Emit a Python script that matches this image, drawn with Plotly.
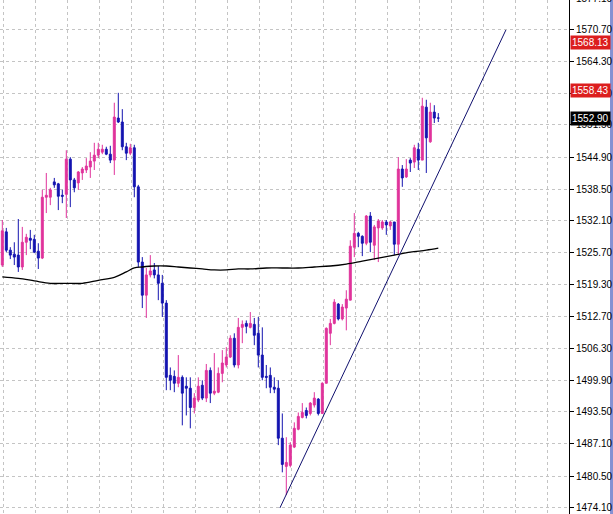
import plotly.graph_objects as go

# ---- candle data (bar index, open, high, low, close) ----
opens = [1523.2, 1529.9, 1526.2, 1525.4, 1525.2, 1522.8, 1527.8, 1528.6, 1528.4, 1526.0,
         1524.6, 1536.9, 1536.9, 1540.0, 1539.6, 1537.3, 1537.5, 1544.6, 1540.4, 1539.8,
         1541.8, 1542.4, 1543.0, 1544.2, 1545.4, 1546.0, 1546.6, 1545.6, 1544.4, 1552.9,
         1552.1, 1547.1, 1545.8, 1546.9, 1539.0, 1523.8, 1517.1, 1521.2, 1522.2, 1521.2,
         1519.5, 1515.5, 1500.9, 1500.7, 1499.3, 1500.5, 1498.7, 1498.3, 1494.4, 1495.9,
         1498.9, 1496.3, 1501.9, 1497.3, 1497.5, 1501.3, 1503.0, 1504.6, 1508.4, 1503.0,
         1510.6, 1511.4, 1510.6, 1511.2, 1509.4, 1505.0, 1500.7, 1500.9, 1498.5, 1498.3,
         1488.2, 1482.5, 1482.7, 1486.4, 1490.0, 1492.4, 1493.8, 1493.2, 1494.9, 1496.1,
         1493.2, 1499.3, 1509.4, 1511.4, 1515.3, 1512.3, 1514.5, 1516.1, 1526.8, 1529.6,
         1529.0, 1527.6, 1533.1, 1527.2, 1530.7, 1530.7, 1531.9, 1531.1, 1531.9, 1527.4,
         1542.6, 1541.0, 1544.4, 1544.0, 1546.6, 1544.4, 1555.1, 1548.1, 1554.1, 1552.9]
highs = [1532.3, 1530.7, 1526.8, 1527.8, 1532.5, 1530.9, 1529.5, 1530.3, 1529.3, 1527.6,
         1538.4, 1541.8, 1538.8, 1540.8, 1539.8, 1538.4, 1546.4, 1545.0, 1540.8, 1542.2,
         1543.0, 1544.8, 1546.0, 1547.9, 1547.9, 1547.5, 1547.1, 1547.3, 1556.0, 1558.0,
         1554.7, 1547.9, 1547.7, 1547.5, 1539.4, 1524.8, 1522.6, 1525.2, 1523.6, 1523.0,
         1521.2, 1516.1, 1502.5, 1501.9, 1505.0, 1500.9, 1500.5, 1500.5, 1497.3, 1500.5,
         1499.9, 1503.2, 1502.5, 1505.4, 1502.5, 1506.0, 1506.6, 1509.0, 1509.4, 1512.5,
         1512.0, 1512.0, 1513.7, 1512.5, 1512.7, 1510.6, 1503.0, 1502.5, 1500.5, 1499.9,
         1493.2, 1488.4, 1487.4, 1491.4, 1493.4, 1495.3, 1494.4, 1495.5, 1497.5, 1496.3,
         1499.5, 1510.6, 1512.3, 1516.3, 1515.5, 1515.3, 1518.1, 1528.2, 1533.7, 1529.9,
         1529.2, 1533.3, 1533.9, 1531.3, 1532.5, 1532.3, 1532.3, 1532.1, 1531.9, 1545.0,
         1543.4, 1544.6, 1544.8, 1547.5, 1547.9, 1557.0, 1556.6, 1556.0, 1555.5, 1553.9]
lows = [1522.8, 1525.8, 1524.4, 1523.2, 1521.8, 1522.2, 1525.2, 1526.4, 1525.6, 1522.4,
        1524.4, 1533.7, 1535.3, 1538.8, 1534.3, 1535.7, 1532.7, 1534.9, 1537.9, 1538.4,
        1540.4, 1541.8, 1540.8, 1542.4, 1544.8, 1545.6, 1545.4, 1543.8, 1541.4, 1551.9,
        1546.4, 1544.4, 1545.4, 1536.9, 1522.8, 1514.5, 1512.5, 1520.7, 1520.5, 1516.1,
        1512.7, 1497.9, 1497.9, 1497.5, 1498.5, 1490.8, 1492.8, 1490.2, 1493.2, 1495.5,
        1495.9, 1495.5, 1495.3, 1496.9, 1497.3, 1499.5, 1502.5, 1504.4, 1502.5, 1502.3,
        1507.4, 1509.4, 1510.4, 1507.0, 1502.5, 1499.9, 1498.3, 1497.3, 1497.3, 1486.8,
        1481.3, 1476.7, 1482.3, 1486.2, 1489.8, 1492.2, 1492.2, 1492.8, 1494.4, 1492.8,
        1493.2, 1499.3, 1507.0, 1511.2, 1512.0, 1512.0, 1510.0, 1516.1, 1524.8, 1526.8,
        1525.0, 1527.2, 1525.8, 1524.2, 1523.8, 1530.3, 1529.3, 1530.3, 1525.2, 1525.2,
        1539.0, 1540.8, 1542.0, 1542.8, 1542.4, 1544.4, 1541.8, 1547.9, 1551.9, 1552.1]
closes = [1530.1, 1526.2, 1525.2, 1524.8, 1522.8, 1527.8, 1528.8, 1528.2, 1525.8, 1524.6,
          1536.9, 1537.3, 1538.4, 1539.4, 1537.1, 1537.1, 1544.6, 1540.4, 1538.8, 1542.0,
          1542.6, 1543.2, 1544.2, 1545.4, 1546.6, 1546.6, 1545.6, 1544.4, 1553.1, 1552.1,
          1547.1, 1545.8, 1546.9, 1539.0, 1523.8, 1517.1, 1521.2, 1522.0, 1521.2, 1519.5,
          1515.5, 1500.5, 1499.9, 1499.3, 1500.5, 1497.3, 1498.3, 1494.4, 1496.3, 1498.7,
          1496.3, 1501.9, 1497.3, 1497.7, 1501.3, 1503.4, 1504.6, 1508.4, 1503.0, 1510.6,
          1511.2, 1510.8, 1511.4, 1509.0, 1505.0, 1500.5, 1500.5, 1498.5, 1498.1, 1488.2,
          1482.9, 1483.3, 1486.8, 1490.2, 1492.6, 1493.4, 1492.8, 1495.3, 1496.3, 1493.2,
          1499.3, 1510.4, 1511.4, 1515.7, 1512.3, 1514.7, 1516.3, 1527.0, 1529.6, 1529.0,
          1527.6, 1533.1, 1527.8, 1530.9, 1532.1, 1531.9, 1531.3, 1531.9, 1527.4, 1542.6,
          1540.8, 1542.6, 1543.8, 1546.9, 1544.4, 1555.3, 1548.9, 1554.1, 1552.9, 1552.9]
bars = list(range(len(opens)))

# ---- moving average (bar index, value) ----
ma_bars = [0, 4, 8, 12, 16, 20, 24, 28, 31, 33, 35, 38, 41, 44, 47, 50, 53, 56, 59, 62,
           66, 70, 74, 78, 82, 86, 90, 94, 98, 102, 106, 109]
ma_vals = [1520.8, 1520.5, 1520.0, 1519.5, 1519.5, 1519.5, 1520.1, 1520.7, 1521.8, 1522.6,
           1522.8, 1523.0, 1523.0, 1522.8, 1522.6, 1522.4, 1522.2, 1522.2, 1522.4, 1522.4,
           1522.6, 1522.6, 1522.6, 1522.8, 1523.0, 1523.4, 1524.0, 1524.6, 1525.2, 1525.8,
           1526.2, 1526.6]

# ---- trend line (bar index, price) ----
trend_bars = [69.4, 125.9]
trend_vals = [1474.1, 1570.7]

# ---- horizontal levels ----
red_levels = [1568.13, 1558.43]
bid_level = 1552.90

# ---- y tick labels ----
tick_vals = [1474.10, 1480.50, 1487.10, 1493.50, 1499.90, 1506.30, 1512.70, 1519.30,
             1525.70, 1532.10, 1538.50, 1544.90, 1551.50, 1557.90, 1564.30, 1570.70]
top_label = 1577.10

Y_MIN, Y_MAX = 1472.88, 1576.76

PINK = "#e0339b"
BLUE = "#1414b0"
RED = "#dc1e1e"
FONT = "Liberation Sans"

fig = go.Figure()

fig.add_trace(go.Candlestick(
    x=bars, open=opens, high=highs, low=lows, close=closes,
    increasing=dict(line=dict(color=PINK, width=1), fillcolor=PINK),
    decreasing=dict(line=dict(color=BLUE, width=1), fillcolor=BLUE),
    whiskerwidth=0, showlegend=False, hoverinfo="skip"))

fig.add_trace(go.Scatter(x=ma_bars, y=ma_vals, mode="lines", line_shape="spline",
                         line=dict(color="black", width=1.3), showlegend=False,
                         hoverinfo="skip"))

fig.add_trace(go.Scatter(x=trend_bars, y=trend_vals, mode="lines",
                         line=dict(color="#10106e", width=1), showlegend=False,
                         hoverinfo="skip"))

for lv in red_levels:
    fig.add_hline(y=lv, line=dict(color=RED, width=1), layer="below")
fig.add_hline(y=bid_level, line=dict(color="#b4b4b4", width=1), layer="below")

annotations = []
for lv in red_levels:
    annotations.append(dict(xref="paper", yref="y", x=1, y=lv, xanchor="left",
                            yanchor="middle", xshift=1, text=f"{lv:.2f}",
                            showarrow=False, bgcolor=RED, borderpad=1,
                            font=dict(family=FONT, size=10, color="white")))
annotations.append(dict(xref="paper", yref="y", x=1, y=bid_level, xanchor="left",
                        yanchor="middle", xshift=1, text=f"{bid_level:.2f}",
                        showarrow=False, bgcolor="black", borderpad=1,
                        font=dict(family=FONT, size=10, color="white")))
annotations.append(dict(xref="paper", yref="paper", x=1,
                        y=(top_label - Y_MIN) / (Y_MAX - Y_MIN),
                        xanchor="left", yanchor="middle", xshift=5,
                        text=f"{top_label:.2f}", showarrow=False,
                        font=dict(family=FONT, size=10, color="black")))

fig.update_layout(
    width=613, height=514,
    margin=dict(l=0, r=44, t=0, b=0),
    paper_bgcolor="white", plot_bgcolor="white",
    annotations=annotations,
    shapes=[dict(type="rect", xref="paper", yref="paper", x0=1.0725, x1=1.08,
                 y0=0, y1=1, fillcolor="#8591d2", line=dict(width=0))],
    xaxis=dict(range=[-0.575, 141.675], rangeslider=dict(visible=False),
               showticklabels=False, ticks="", tick0=0.175, dtick=8,
               showgrid=True, gridcolor="#c4c4c4", griddash="3px,3px",
               gridwidth=1, zeroline=False, showline=False),
    yaxis=dict(range=[Y_MIN, Y_MAX], side="right",
               tickvals=tick_vals, ticktext=[f"{v:.2f}" for v in tick_vals],
               ticks="outside", ticklen=4, tickcolor="black",
               showgrid=True, gridcolor="#c4c4c4", griddash="3px,3px", gridwidth=1,
               showline=True, linecolor="black", linewidth=1, mirror=False,
               zeroline=False,
               tickfont=dict(family=FONT, size=10, color="black")),
)

fig.write_html("out.html",
               config={"displayModeBar": False},
               post_script="document.body.style.margin='0px';"
                           "document.body.style.overflow='hidden';")
